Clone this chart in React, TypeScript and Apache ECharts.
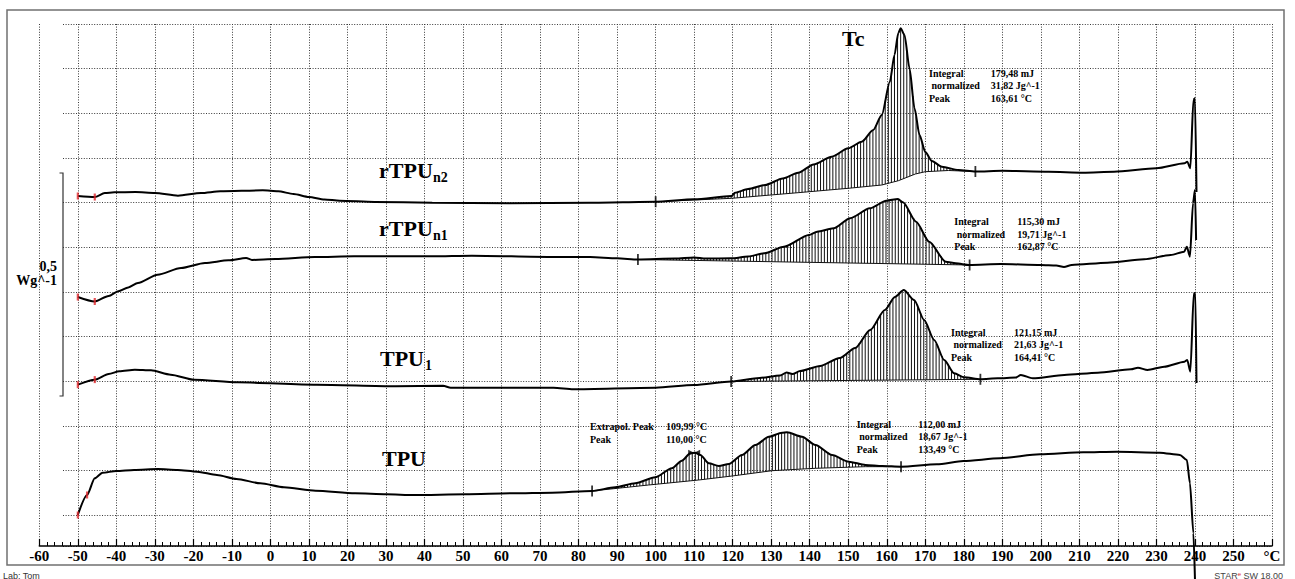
import React, { useEffect, useRef } from 'react';
import * as echarts from 'echarts';

type Pt = [number, number];

// ---- axis ----
const X_MIN = -60;
const X_MAX = 260;
const X_STEP = 10;
const X_UNIT_LABEL = '°C';
const Y_MAX = 1.1688; // W/g span of the plot
const GRID_STEP = 0.1; // W/g between horizontal grid lines

// ---- curves: temperature (°C), heat flow (W/g, offset) ----
const rTPUn2: Pt[] = [
  [-50, 0.7837], [-45.6, 0.7814], [-43, 0.7904], [-40.5, 0.792], [-35, 0.7926], [-30, 0.7904],
  [-24, 0.7844], [-18, 0.7904], [-13, 0.7942], [-2, 0.7964], [2, 0.7942], [6, 0.7882],
  [10, 0.7814], [14, 0.7758], [18, 0.7732], [27, 0.7703], [42, 0.7687], [62, 0.7673],
  [83, 0.7687], [100, 0.7709], [110, 0.7763], [119.7, 0.7837], [120.6, 0.7911], [124, 0.7994],
  [128.4, 0.8083], [133, 0.8229], [137, 0.8359], [141, 0.8542], [145.7, 0.8717], [150, 0.8905],
  [153.5, 0.9053], [156.5, 0.9315], [158.7, 0.9651], [160.8, 1.0396], [162, 1.0994], [163, 1.1487],
  [163.6, 1.1592], [164.6, 1.1442], [165.9, 1.0696], [167.2, 0.9801], [168.5, 0.9203], [170, 0.8822],
  [171.7, 0.8621], [174.3, 0.8493], [178.6, 0.8419], [183, 0.8385], [190, 0.8401], [202, 0.8381],
  [211, 0.8359], [219, 0.8381], [230, 0.8457], [237.3, 0.8569], [238, 0.8605], [238.8, 0.8457],
  [239.6, 0.9986], [240, 1.0024], [240.4, 0.7926],
];
const rTPUn2Base: Pt[] = [
  [100, 0.7709], [119.7, 0.7785], [137, 0.7911], [150, 0.8009], [158.7, 0.8083], [163, 0.8179],
  [167.4, 0.8329], [170, 0.8381], [176, 0.8408], [183, 0.8385],
];

const rTPUn1: Pt[] = [
  [-50, 0.5575], [-45.6, 0.5475], [-42, 0.5598], [-39.5, 0.5703], [-36.9, 0.579], [-34.4, 0.5889],
  [-29.3, 0.6075], [-23.2, 0.6225], [-17, 0.6337], [-10.9, 0.6397], [-6.3, 0.6449], [-4.8, 0.6405],
  [1.3, 0.6426], [11.5, 0.6471], [21.7, 0.6487], [42, 0.6487], [52.3, 0.65], [72.8, 0.6471],
  [83, 0.6471], [90, 0.6442], [95.4, 0.6415], [105, 0.6437], [110, 0.646], [113, 0.6437],
  [119.6, 0.6442], [124, 0.6482], [128.2, 0.6554], [133.3, 0.6702], [139.8, 0.6964], [141.9, 0.7038],
  [146.2, 0.7114], [150.5, 0.7338], [155.6, 0.7561], [159.9, 0.7732], [162.9, 0.777], [164.2, 0.7696],
  [167.6, 0.7261], [171, 0.6814], [175.3, 0.6366], [177.9, 0.633], [181.5, 0.6292], [189.6, 0.6314],
  [200, 0.6292], [204, 0.6281], [206, 0.6247], [208, 0.6292], [217.3, 0.6343], [226.8, 0.642],
  [233.7, 0.6516], [237.2, 0.659], [237.9, 0.6702], [238.7, 0.6478], [239.5, 0.768], [240, 0.7971],
  [240.3, 0.6852],
];
const rTPUn1Base: Pt[] = [[95.4, 0.6415], [181.5, 0.6292]];

const TPU1: Pt[] = [
  [-50, 0.3612], [-45.6, 0.3725], [-42, 0.385], [-39.2, 0.3912], [-35.2, 0.3947], [-31, 0.3934],
  [-25.9, 0.3836], [-19.8, 0.3724], [-8.5, 0.3665], [12, 0.3612], [32.5, 0.3576], [44.8, 0.3589],
  [46.8, 0.3544], [73.5, 0.3544], [78.6, 0.3509], [100, 0.3544], [110, 0.3605], [119.6, 0.3683],
  [127, 0.3762], [132.3, 0.3818], [134, 0.3885], [135.5, 0.3851], [137.5, 0.3918], [142.7, 0.403],
  [147.8, 0.421], [151.8, 0.4433], [155.7, 0.4836], [159.5, 0.5284], [162.1, 0.5575], [164.4, 0.573],
  [167.1, 0.5508], [169.7, 0.506], [172.3, 0.4613], [174.9, 0.4165], [177.5, 0.3867], [180.1, 0.3777],
  [184.3, 0.3733], [188.8, 0.3755], [193.5, 0.3773], [194.8, 0.3829], [197.9, 0.3755], [206.1, 0.3829],
  [214.8, 0.388], [223.4, 0.3956], [225.2, 0.3992], [227.7, 0.3941], [232, 0.4015], [237.3, 0.4127],
  [238, 0.4165], [238.8, 0.3903], [239.7, 0.5658], [240.1, 0.5665], [240.4, 0.365],
];
const TPU1Base: Pt[] = [[119.6, 0.3683], [184.3, 0.3733]];

const TPU: Pt[] = [
  [-50, 0.0694], [-47.6, 0.1142], [-45.6, 0.1516], [-43.6, 0.1641], [-40, 0.1679], [-35.4, 0.1702],
  [-29.2, 0.1724], [-24.1, 0.1702], [-19, 0.1664], [-13.9, 0.159], [-8.8, 0.15], [-2.6, 0.1404],
  [3.5, 0.1314], [11.7, 0.1238], [22, 0.118], [30.1, 0.1158], [37.3, 0.1142], [50.6, 0.1158],
  [62.9, 0.118], [73.1, 0.1193], [83.5, 0.1232], [89.5, 0.1314], [94.7, 0.1404], [99.9, 0.1538],
  [104.2, 0.174], [106.8, 0.191], [109, 0.2076], [110.3, 0.2089], [111.6, 0.2038], [113.8, 0.1852],
  [116.4, 0.1791], [119, 0.1836], [122.4, 0.2038], [125.9, 0.2261], [129.4, 0.2447], [132.8, 0.2537],
  [134.1, 0.2546], [138, 0.2447], [141.5, 0.2261], [145.8, 0.2038], [150.1, 0.1888], [154.5, 0.1814],
  [158.8, 0.1791], [163.7, 0.1776], [173, 0.1829], [179.9, 0.1903], [189.4, 0.1964], [199.8, 0.2053],
  [211, 0.2098], [219.7, 0.2111], [230.9, 0.2089], [236.1, 0.2038], [237.9, 0.1926], [238.7, 0.1404],
  [239.6, 0.0284], [240, -0.0739],
];
const TPUBase: Pt[] = [
  [83.5, 0.1232], [98.2, 0.1366], [111.2, 0.1478], [119.8, 0.1567], [130.2, 0.1686], [141.5, 0.174],
  [154.5, 0.1776], [163.7, 0.1776],
];

// integration limits (°C)
const limRTPUn2 = [100, 183];
const limRTPUn1 = [95.4, 181.5];
const limTPU1 = [119.6, 184.3];
const limTPU = [83.5, 163.7];
// start markers (°C)
const startMarks = [-50, -45.6];
const startMarksTPU = [-50, -47.6];
const extrapolPeakTPU = 110;

// ---- texts ----
const annLabels = ['Integral', ' normalized', 'Peak'];
const annRTPUn2 = ['179,48 mJ', '31,82 Jg^-1', '163,61 °C'];
const annRTPUn1 = ['115,30 mJ', '19,71 Jg^-1', '162,87 °C'];
const annTPU1 = ['121,15 mJ', '21,63 Jg^-1', '164,41 °C'];
const annTPU = ['112,00 mJ', '18,67 Jg^-1', '133,49 °C'];
const extrapolLabels = ['Extrapol. Peak', 'Peak'];
const extrapolValues = ['109,99 °C', '110,00 °C'];

const SERIF = '"Liberation Serif", "Times New Roman", serif';
const SANS = '"Liberation Sans", Arial, sans-serif';

function interp(pts: Pt[], t: number): number {
  for (let i = 0; i < pts.length - 1; i++) {
    const [x0, y0] = pts[i];
    const [x1, y1] = pts[i + 1];
    if (t >= x0 && t <= x1) return x1 === x0 ? y0 : y0 + ((y1 - y0) * (t - x0)) / (x1 - x0);
  }
  return t < pts[0][0] ? pts[0][1] : pts[pts.length - 1][1];
}

function curveSeries(data: Pt[], clip = true) {
  return {
    type: 'line',
    data,
    xAxisIndex: 0,
    yAxisIndex: 0,
    symbol: 'none',
    showSymbol: false,
    smooth: 0.25,
    smoothMonotone: 'x',
    clip,
    silent: true,
    z: 3,
    lineStyle: { color: '#000', width: 2 },
  };
}

function hatchSeries(curve: Pt[], base: Pt[], lim: number[]) {
  return {
    type: 'custom',
    xAxisIndex: 0,
    yAxisIndex: 0,
    silent: true,
    z: 2,
    data: [[lim[0], lim[1]]],
    renderItem: (_p: any, api: any) => {
      const children: any[] = [];
      for (let t = lim[0] + 0.4; t < lim[1]; t += 0.8) {
        const c = interp(curve, t);
        const b = interp(base, t);
        if (c - b > 0.001) {
          const p1 = api.coord([t, c]);
          const p2 = api.coord([t, b]);
          children.push({
            type: 'line',
            shape: { x1: p1[0], y1: p1[1], x2: p2[0], y2: p2[1] },
            style: { stroke: '#111', lineWidth: 1 },
          });
        }
      }
      const pts = base.map((p) => api.coord(p));
      children.push({ type: 'polyline', shape: { points: pts }, style: { stroke: '#111', fill: null, lineWidth: 1 } });
      return { type: 'group', children };
    },
  };
}

function markSeries(pts: Pt[], color: string, size: number[], symbol = 'rect') {
  return {
    type: 'scatter',
    xAxisIndex: 0,
    yAxisIndex: 0,
    data: pts,
    symbol,
    symbolSize: size,
    itemStyle: { color },
    silent: true,
    z: 5,
  };
}

function text(x: number, y: number, t: string, font: string, align = 'left', fill = '#000') {
  return {
    type: 'text',
    x,
    y,
    silent: true,
    z: 10,
    style: { text: t, font, fill, textAlign: align, textVerticalAlign: 'middle', align, verticalAlign: 'middle' },
  };
}

function annotation(x: number, y: number, valueX: number, labels: string[], values: string[]) {
  const font = `bold 10px ${SERIF}`;
  const out: any[] = [];
  labels.forEach((l, i) => {
    out.push(text(x, y + i * 12.5, l, font));
    out.push(text(valueX, y + i * 12.5, values[i], font));
  });
  return out;
}

function buildOption() {
  const at = (c: Pt[], ts: number[]): Pt[] => ts.map((t) => [t, interp(c, t)]);
  const gridLine = { color: '#3a3a3a', type: [1, 1.6], width: 1 };
  const curveFont = `bold 22px ${SERIF}`;
  const subFont = `bold 14px ${SERIF}`;

  return {
    animation: false,
    backgroundColor: '#fff',
    textStyle: { fontFamily: 'Liberation Serif' },
    grid: [
      { left: 39.3, right: 23, top: 24, bottom: 33 },
      { left: 63, right: 23, top: 24, bottom: 33 },
    ],
    xAxis: [
      {
        gridIndex: 0,
        type: 'value',
        min: X_MIN,
        max: X_MAX,
        interval: X_STEP,
        axisLine: { show: true, onZero: false, lineStyle: { color: '#000', width: 1.5 } },
        axisTick: { show: true, inside: true, length: 7, lineStyle: { color: '#000', width: 1.2 } },
        minorTick: { show: true, splitNumber: 5, length: 4, lineStyle: { color: '#000', width: 1 } },
        axisLabel: {
          show: true,
          margin: 2,
          showMinLabel: true,
          showMaxLabel: true,
          color: '#000',
          fontFamily: 'Liberation Serif',
          fontWeight: 'bold',
          fontSize: 15,
          formatter: (v: number) => `{l|${v === X_MAX ? X_UNIT_LABEL : String(v)}}`,
          rich: {
            l: {
              fontFamily: 'Liberation Serif',
              fontWeight: 'bold',
              fontSize: 15,
              color: '#000',
            },
          },
        },
        splitLine: { show: true, lineStyle: gridLine },
      },
      { gridIndex: 1, type: 'value', min: 0, max: 1, show: false },
    ],
    yAxis: [
      { gridIndex: 0, type: 'value', min: 0, max: Y_MAX, show: false },
      {
        gridIndex: 1,
        type: 'value',
        inverse: true,
        min: 0,
        max: Y_MAX,
        interval: GRID_STEP,
        axisLine: { show: false },
        axisTick: { show: false },
        axisLabel: { show: false },
        splitLine: { show: true, lineStyle: gridLine },
      },
    ],
    series: [
      hatchSeries(rTPUn2, rTPUn2Base, limRTPUn2),
      hatchSeries(rTPUn1, rTPUn1Base, limRTPUn1),
      hatchSeries(TPU1, TPU1Base, limTPU1),
      hatchSeries(TPU, TPUBase, limTPU),
      curveSeries(rTPUn2),
      curveSeries(rTPUn1),
      curveSeries(TPU1),
      curveSeries(TPU, false),
      markSeries(
        [...at(rTPUn2, startMarks), ...at(rTPUn1, startMarks), ...at(TPU1, startMarks), ...at(TPU, startMarksTPU)],
        '#e0262b',
        [2.2, 7]
      ),
      markSeries(
        [...at(rTPUn2, limRTPUn2), ...at(rTPUn1, limRTPUn1), ...at(TPU1, limTPU1), ...at(TPU, limTPU)],
        '#000',
        [1.8, 11]
      ),
      markSeries(at(TPU, [extrapolPeakTPU]), '#000', [12, 6], 'path://M0,0L10,5L10,0L0,5Z'),
    ],
    graphic: [
      {
        type: 'rect',
        silent: true,
        z: 0,
        shape: { x: 7, y: 10, width: 1277, height: 555 },
        style: { fill: 'none', stroke: '#707070', lineWidth: 1.5 },
      },
      {
        type: 'polyline',
        silent: true,
        z: 10,
        shape: { points: [[59.5, 173], [63, 173], [63, 396], [59.5, 396]] },
        style: { fill: 'none', stroke: '#333', lineWidth: 1.2 },
      },
      text(57, 266, '0,5', `bold 14px ${SERIF}`, 'right'),
      text(57, 280.5, 'Wg^-1', `bold 14px ${SERIF}`, 'right'),
      text(379, 170.5, 'rTPU', curveFont),
      text(433, 177.5, 'n2', subFont),
      text(379, 228.5, 'rTPU', curveFont),
      text(433, 235.5, 'n1', subFont),
      text(380, 358, 'TPU', curveFont),
      text(425, 365, '1', subFont),
      text(382, 458, 'TPU', curveFont),
      text(842, 38, 'Tc', curveFont),
      ...annotation(929, 73.3, 990.7, annLabels, annRTPUn2),
      ...annotation(954.3, 221.5, 1017.3, annLabels, annRTPUn1),
      ...annotation(951, 332.3, 1014, annLabels, annTPU1),
      ...annotation(856.7, 424, 918.3, annLabels, annTPU),
      text(590, 426, extrapolLabels[0], `bold 10px ${SERIF}`),
      text(666, 426, extrapolValues[0], `bold 10px ${SERIF}`),
      text(590, 439, extrapolLabels[1], `bold 10px ${SERIF}`),
      text(666, 439, extrapolValues[1], `bold 10px ${SERIF}`),
      text(3, 575.5, 'Lab: Tom', `9px ${SANS}`, 'left', '#333'),
      {
        type: 'text',
        x: 1283,
        y: 575.5,
        silent: true,
        z: 10,
        style: {
          text: '{a|STAR}{b|e}{a| SW 18.00}',
          textAlign: 'right',
          align: 'right',
          textVerticalAlign: 'middle',
          verticalAlign: 'middle',
          rich: {
            a: { font: `9px ${SANS}`, fill: '#444', color: '#444' },
            b: { font: `6px ${SANS}`, fill: '#e0262b', color: '#e0262b', verticalAlign: 'top' },
          },
        },
      },
    ],
  };
}

export default function App() {
  const ref = useRef<HTMLDivElement>(null);
  useEffect(() => {
    if (!ref.current) return;
    const chart = echarts.init(ref.current, null, { renderer: 'svg' });
    chart.setOption(buildOption() as any);
    return () => chart.dispose();
  }, []);
  return (
    <div
      ref={ref}
      style={{ position: 'fixed', left: 0, top: 0, width: 1295, height: 579, background: '#fff' }}
    />
  );
}
